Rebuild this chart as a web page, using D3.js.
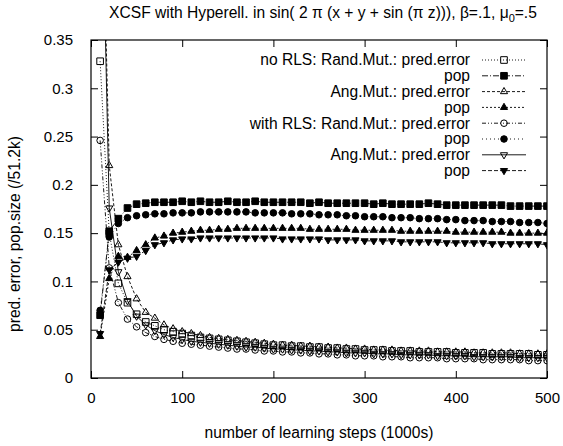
<!doctype html>
<html lang="en">
<head>
<meta charset="UTF-8">
<title>XCSF</title>
<style>
  body { margin: 0; background: #fff; }
  text { font-family: "Liberation Sans", Arial, sans-serif; font-size: 15.6px; fill: #000; }
  .tick text { font-size: 15px; }
</style>
</head>
<body>
<svg width="563" height="446"></svg>
<script src="https://cdn.jsdelivr.net/npm/d3@7"></script>
<script>
// learning steps (1000s)
var steps = [10, 20, 30, 40, 50, 60, 70, 80, 90, 100,
    110, 120, 130, 140, 150, 160, 170, 180, 190, 200,
    210, 220, 230, 240, 250, 260, 270, 280, 290, 300,
    310, 320, 330, 340, 350, 360, 370, 380, 390, 400,
    410, 420, 430, 440, 450, 460, 470, 480, 490, 500];

var noRlsRandErr = [0.328, 0.150, 0.098, 0.078, 0.066, 0.058, 0.054, 0.050, 0.048, 0.046,
    0.044, 0.042, 0.041, 0.040, 0.039, 0.038, 0.037, 0.036, 0.035, 0.034,
    0.034, 0.033, 0.033, 0.032, 0.032, 0.031, 0.031, 0.030, 0.030, 0.029,
    0.029, 0.029, 0.028, 0.028, 0.028, 0.027, 0.027, 0.027, 0.027, 0.026,
    0.026, 0.026, 0.026, 0.025, 0.025, 0.025, 0.025, 0.025, 0.024, 0.024];
var noRlsRandPop = [0.065, 0.152, 0.165, 0.176, 0.180, 0.181, 0.182, 0.182, 0.182, 0.183,
    0.182, 0.183, 0.182, 0.182, 0.183, 0.182, 0.182, 0.183, 0.182, 0.182,
    0.182, 0.182, 0.182, 0.181, 0.182, 0.181, 0.181, 0.181, 0.181, 0.181,
    0.180, 0.181, 0.180, 0.180, 0.180, 0.180, 0.181, 0.180, 0.179, 0.179,
    0.179, 0.179, 0.179, 0.179, 0.179, 0.178, 0.178, 0.178, 0.178, 0.178];
var noRlsAngErr = [0.600, 0.220, 0.138, 0.105, 0.082, 0.068, 0.062, 0.055, 0.051, 0.048,
    0.046, 0.044, 0.042, 0.041, 0.040, 0.039, 0.038, 0.037, 0.036, 0.035,
    0.034, 0.034, 0.033, 0.033, 0.032, 0.032, 0.031, 0.031, 0.030, 0.030,
    0.029, 0.029, 0.029, 0.028, 0.028, 0.028, 0.028, 0.027, 0.027, 0.027,
    0.027, 0.026, 0.026, 0.026, 0.026, 0.026, 0.025, 0.025, 0.025, 0.025];
var noRlsAngPop = [0.043, 0.103, 0.126, 0.125, 0.132, 0.138, 0.145, 0.147, 0.150, 0.151,
    0.152, 0.153, 0.153, 0.154, 0.154, 0.155, 0.155, 0.155, 0.155, 0.155,
    0.155, 0.155, 0.155, 0.154, 0.154, 0.154, 0.154, 0.154, 0.153, 0.153,
    0.153, 0.153, 0.153, 0.152, 0.152, 0.152, 0.152, 0.152, 0.152, 0.151,
    0.151, 0.151, 0.151, 0.151, 0.151, 0.150, 0.150, 0.150, 0.150, 0.150];
var rlsRandErr = [0.246, 0.114, 0.078, 0.061, 0.053, 0.047, 0.043, 0.040, 0.038, 0.036,
    0.035, 0.034, 0.033, 0.032, 0.031, 0.030, 0.030, 0.029, 0.028, 0.028,
    0.027, 0.027, 0.026, 0.026, 0.025, 0.025, 0.024, 0.024, 0.023, 0.023,
    0.023, 0.022, 0.022, 0.022, 0.021, 0.021, 0.021, 0.021, 0.020, 0.020,
    0.020, 0.020, 0.019, 0.019, 0.019, 0.019, 0.019, 0.018, 0.018, 0.018];
var rlsRandPop = [0.070, 0.146, 0.160, 0.166, 0.168, 0.169, 0.170, 0.170, 0.171, 0.171,
    0.171, 0.172, 0.172, 0.172, 0.172, 0.172, 0.172, 0.171, 0.171, 0.171,
    0.171, 0.170, 0.170, 0.170, 0.169, 0.169, 0.169, 0.168, 0.168, 0.167,
    0.167, 0.167, 0.166, 0.166, 0.166, 0.165, 0.165, 0.165, 0.164, 0.164,
    0.163, 0.163, 0.163, 0.162, 0.162, 0.162, 0.161, 0.161, 0.161, 0.160];
var rlsAngErr = [0.600, 0.176, 0.110, 0.080, 0.064, 0.055, 0.049, 0.045, 0.042, 0.040,
    0.038, 0.037, 0.036, 0.035, 0.034, 0.033, 0.032, 0.032, 0.031, 0.030,
    0.030, 0.029, 0.029, 0.028, 0.028, 0.027, 0.027, 0.026, 0.026, 0.026,
    0.025, 0.025, 0.025, 0.024, 0.024, 0.024, 0.024, 0.023, 0.023, 0.023,
    0.023, 0.022, 0.022, 0.022, 0.022, 0.022, 0.021, 0.021, 0.021, 0.021];
var rlsAngPop = [0.046, 0.112, 0.120, 0.124, 0.126, 0.132, 0.138, 0.140, 0.143, 0.144,
    0.144, 0.145, 0.145, 0.145, 0.145, 0.145, 0.145, 0.145, 0.145, 0.145,
    0.144, 0.144, 0.144, 0.144, 0.144, 0.143, 0.143, 0.143, 0.143, 0.142,
    0.142, 0.142, 0.142, 0.141, 0.141, 0.141, 0.141, 0.141, 0.140, 0.140,
    0.140, 0.140, 0.140, 0.139, 0.139, 0.139, 0.139, 0.139, 0.139, 0.138];

var legendLabels = ['no RLS: Rand.Mut.: pred.error', 'pop', 'Ang.Mut.: pred.error', 'pop',
    'with RLS: Rand.Mut.: pred.error', 'pop', 'Ang.Mut.: pred.error', 'pop'];
var xTicks = [0, 100, 200, 300, 400, 500];
var yTicks = [0, 0.05, 0.1, 0.15, 0.2, 0.25, 0.3, 0.35];
var yTickLabels = ['0', '0.05', '0.1', '0.15', '0.2', '0.25', '0.3', '0.35'];

var series = [
    { values: noRlsRandErr, sym: d3.symbolSquare, filled: false, dash: '1,2' },
    { values: noRlsRandPop, sym: d3.symbolSquare, filled: true, dash: '6,2,1,2' },
    { values: noRlsAngErr, sym: d3.symbolTriangle, filled: false, dash: '3,2' },
    { values: noRlsAngPop, sym: d3.symbolTriangle, filled: true, dash: '2,2' },
    { values: rlsRandErr, sym: d3.symbolCircle, filled: false, dash: '4,2,1,2,1,2' },
    { values: rlsRandPop, sym: d3.symbolCircle, filled: true, dash: '1,3' },
    { values: rlsAngErr, sym: d3.symbolTriangle, filled: false, dash: null, flip: true },
    { values: rlsAngPop, sym: d3.symbolTriangle, filled: true, dash: '4,2', flip: true }
];
function sizeOf(s) {
    if (s.sym === d3.symbolSquare) return 44;
    if (s.sym === d3.symbolCircle) return 34;
    return 22;
}

var svg = d3.select('svg'),
    margin = { top: 40, right: 16, left: 91, bottom: 68 },
    width = svg.attr('width') - margin.left - margin.right,
    height = svg.attr('height') - margin.top - margin.bottom;

var x = d3.scaleLinear().domain([0, 500]).range([0, width]);
var y = d3.scaleLinear().domain([0, 0.35]).range([height, 0]);

var g = svg.append('g')
    .attr('transform', 'translate(' + margin.left + ',' + margin.top + ')');

svg.append('defs').append('clipPath').attr('id', 'plotclip')
    .append('rect').attr('x', margin.left).attr('y', margin.top)
    .attr('width', width).attr('height', height);

// axes: ticks inward, mirrored
function tickStyle(sel) {
    sel.select('.domain').remove();
    sel.selectAll('.tick line').attr('stroke', '#000');
}
var tl = 7;
g.append('g').attr('transform', 'translate(0,' + height + ')')
    .call(d3.axisBottom(x).tickValues(xTicks).tickSizeInner(-tl).tickSizeOuter(0).tickPadding(14))
    .call(tickStyle)
    .selectAll('text').attr('font-size', null).attr('font-family', null);
g.append('g')
    .call(d3.axisTop(x).tickValues(xTicks).tickSizeInner(-tl).tickSizeOuter(0).tickFormat(''))
    .call(tickStyle);
g.append('g')
    .call(d3.axisLeft(y).tickValues(yTicks).tickSizeInner(-tl).tickSizeOuter(0).tickPadding(18)
        .tickFormat(function(d, i) { return yTickLabels[i]; }))
    .call(tickStyle)
    .selectAll('text').attr('font-size', null).attr('font-family', null);
g.append('g').attr('transform', 'translate(' + width + ',0)')
    .call(d3.axisRight(y).tickValues(yTicks).tickSizeInner(-tl).tickSizeOuter(0).tickFormat(''))
    .call(tickStyle);
g.selectAll('.tick text').attr('fill', '#000');

g.append('rect').attr('width', width).attr('height', height)
    .attr('fill', 'none').attr('stroke', '#000').attr('stroke-width', 1.2);

// curves
var plot = svg.append('g').attr('clip-path', 'url(#plotclip)')
    .append('g').attr('transform', 'translate(' + margin.left + ',' + margin.top + ')');
var line = d3.line()
    .x(function(d, i) { return x(steps[i]); })
    .y(function(d) { return y(d); });

function drawSymbol(sel, s) {
    sel.attr('d', d3.symbol().type(s.sym).size(sizeOf(s)))
        .attr('fill', s.filled ? '#000' : 'none')
        .attr('stroke', '#000')
        .attr('stroke-width', 1);
}

series.forEach(function(s) {
    plot.append('path').datum(s.values)
        .attr('d', line)
        .attr('fill', 'none')
        .attr('stroke', '#000')
        .attr('stroke-width', 0.9)
        .attr('stroke-dasharray', s.dash);
    plot.selectAll(null).data(s.values).enter().append('path')
        .attr('transform', function(d, i) {
            return 'translate(' + x(steps[i]) + ',' + y(d) + ')' + (s.flip ? ' rotate(180)' : '');
        })
        .call(drawSymbol, s);
});

// legend
var legend = svg.append('g');
legendLabels.forEach(function(lab, i) {
    var s = series[i], ly = 60 + i * 15.8;
    legend.append('text').attr('x', 470).attr('y', ly).attr('dy', '0.35em')
        .attr('text-anchor', 'end').text(lab);
    legend.append('line').attr('x1', 482).attr('x2', 526).attr('y1', ly).attr('y2', ly)
        .attr('stroke', '#000').attr('stroke-width', 0.9).attr('stroke-dasharray', s.dash);
    legend.append('path')
        .attr('transform', 'translate(504,' + ly + ')' + (s.flip ? ' rotate(180)' : ''))
        .call(drawSymbol, s);
});

// title and labels
var title = svg.append('text').attr('x', 323).attr('y', 13).attr('dy', '0.35em')
    .attr('text-anchor', 'middle');
title.append('tspan').text('XCSF with Hyperell. in sin( 2 \u03c0 (x + y + sin (\u03c0 z))), \u03b2=.1, \u03bc');
title.append('tspan').attr('font-size', '11px').attr('dy', '4').text('0');
title.append('tspan').attr('dy', '-4').text('=.5');

svg.append('text').attr('x', 319).attr('y', 433).attr('dy', '0.35em')
    .attr('text-anchor', 'middle').text('number of learning steps (1000s)');
svg.append('text').attr('transform', 'translate(15,234) rotate(-90)').attr('dy', '0.35em')
    .attr('text-anchor', 'middle').text('pred. error, pop.size (/51.2k)');
</script>
</body>
</html>
